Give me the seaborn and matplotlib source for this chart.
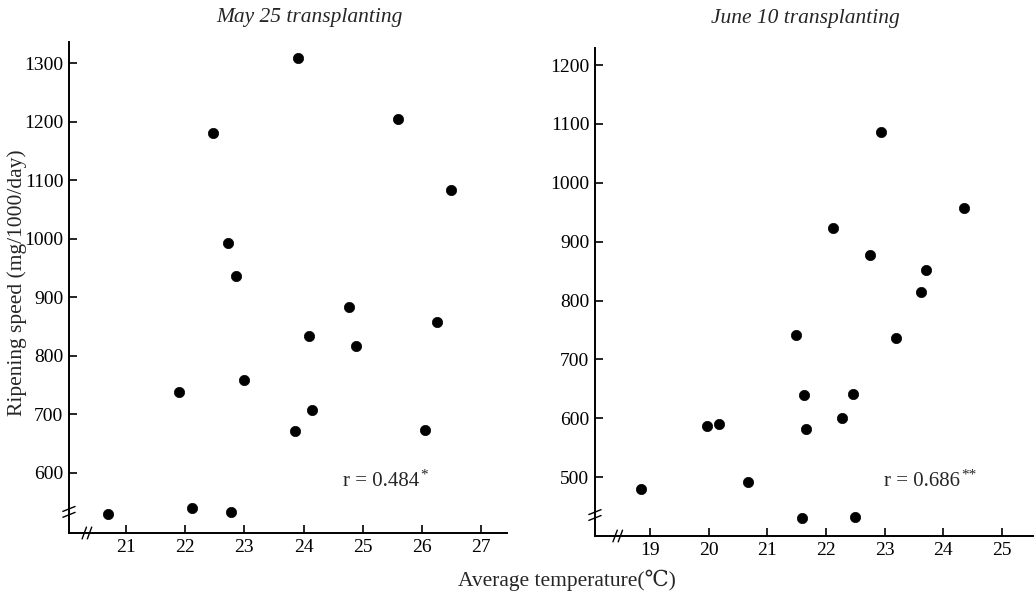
import matplotlib
matplotlib.use("Agg")
import matplotlib.pyplot as plt
import seaborn as sns
import pandas as pd

# May 25 transplanting
may_temp = [22.47, 23.90, 25.60, 26.49, 22.72, 22.86, 24.77, 26.26, 24.09,
            24.88, 22.99, 21.90, 24.15, 23.85, 26.05, 20.70, 22.11, 22.77]
may_speed = [1180, 1309, 1204, 1083, 992, 936, 883, 858, 834,
             816, 759, 738, 707, 672, 673, 530, 540, 533]

# June 10 transplanting
june_temp = [22.94, 24.35, 22.12, 22.75, 23.70, 23.62, 21.49, 23.19, 21.63,
             22.46, 22.27, 19.97, 20.18, 21.66, 20.67, 18.85, 21.59, 22.49]
june_speed = [1086, 958, 923, 877, 852, 815, 742, 736, 639,
              642, 600, 587, 590, 581, 492, 480, 430, 432]

may_xticks = [21, 22, 23, 24, 25, 26, 27]
may_yticks = [600, 700, 800, 900, 1000, 1100, 1200, 1300]
june_xticks = [19, 20, 21, 22, 23, 24, 25]
june_yticks = [500, 600, 700, 800, 900, 1000, 1100, 1200]

titles = ["May 25 transplanting", "June 10 transplanting"]
r_texts = ["r = 0.484", "r = 0.686"]
r_stars = ["*", "**"]

sns.set_theme(style="white")
SERIF = ["Liberation Serif", "DejaVu Serif", "Noto Sans CJK JP"]
plt.rcParams["font.family"] = SERIF

fig = plt.figure(figsize=(10.34, 5.93), dpi=100)
ax1 = fig.add_axes([0.0667, 0.1012, 0.4233, 0.8278])
ax2 = fig.add_axes([0.5754, 0.0961, 0.4236, 0.8230])

panels = [
    (ax1, may_temp, may_speed, may_xticks, may_yticks, (20.04, 27.43), (497, 1336), 0.041, 0.043, (0.626, 0.104)),
    (ax2, june_temp, june_speed, june_xticks, june_yticks, (18.06, 25.53), (400, 1229), 0.052, 0.043, (0.66, 0.111)),
]

for i, (ax, xs, ys, xt, yt, xl, yl, xbrk, ybrk, rpos) in enumerate(panels):
    df = pd.DataFrame({"temp": xs, "speed": ys})
    sns.scatterplot(data=df, x="temp", y="speed", ax=ax, color="black",
                    s=55, edgecolor="black", linewidth=0.5)
    ax.set_xlim(*xl)
    ax.set_ylim(*yl)
    ax.set_xticks(xt)
    ax.set_yticks(yt)
    ax.set_xlabel("")
    ax.set_ylabel("")
    for side in ["top", "right"]:
        ax.spines[side].set_visible(False)
    for side in ["left", "bottom"]:
        ax.spines[side].set_color("black")
        ax.spines[side].set_linewidth(1.4)
    ax.tick_params(axis="both", direction="in", length=6, width=1.2,
                   colors="black", labelsize=14, pad=4,
                   left=True, bottom=True)
    for lab in ax.get_xticklabels() + ax.get_yticklabels():
        lab.set_family(SERIF)
    # axis break marks
    for dx in (-0.006, 0.006):
        ax.plot([xbrk + dx - 0.005, xbrk + dx + 0.005], [-0.012, 0.012],
                transform=ax.transAxes, color="black", lw=1.0, clip_on=False)
    for dy in (-0.006, 0.006):
        ax.plot([-0.014, 0.014], [ybrk + dy - 0.005, ybrk + dy + 0.005],
                transform=ax.transAxes, color="black", lw=1.0, clip_on=False)
    t = ax.text(rpos[0], rpos[1], r_texts[i], transform=ax.transAxes,
                fontsize=15, va="center", ha="left", family=SERIF)
    fig.canvas.draw()
    bb = t.get_window_extent().transformed(ax.transAxes.inverted())
    ax.text(bb.x1 + 0.003, rpos[1] + 0.014, r_stars[i], transform=ax.transAxes,
            fontsize=11, va="center", ha="left", family=SERIF)

fig.text(0.299, 0.971, titles[0], fontsize=15.5, style="italic", ha="center", va="center", family=SERIF)
fig.text(0.779, 0.968, titles[1], fontsize=15.5, style="italic", ha="center", va="center", family=SERIF)
fig.text(0.017, 0.524, "Ripening speed (mg/1000/day)", rotation=90, fontsize=15.5,
         ha="center", va="center", family=SERIF)
fig.text(0.548, 0.022, "Average temperature(℃)", fontsize=15.5, ha="center", va="center", family=SERIF)

fig.savefig("out.png", dpi=100, facecolor="white")
